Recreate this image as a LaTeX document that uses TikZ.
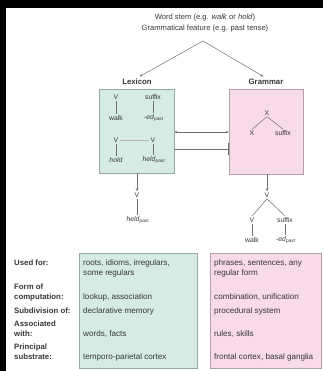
\documentclass[tikz,border=0pt]{standalone}
\usepackage{fontspec}
\setmainfont{Liberation Sans}
\usetikzlibrary{arrows.meta}
\definecolor{lexfill}{RGB}{214,234,230}
\definecolor{lexdraw}{RGB}{150,168,166}
\definecolor{gramfill}{RGB}{248,218,232}
\definecolor{gramdraw}{RGB}{178,160,170}
\definecolor{txt}{RGB}{55,55,55}
\definecolor{ln}{RGB}{110,110,110}
\tikzset{
  hdr/.style={font=\fontsize{7.6}{8.5}\selectfont, text=txt, inner sep=1pt},
  ttl/.style={font=\bfseries\fontsize{7.8}{9}\selectfont, text=txt, inner sep=1pt},
  tr/.style={font=\fontsize{6.8}{7.5}\selectfont, text=txt, inner sep=1.2pt},
  lbl/.style={font=\bfseries\fontsize{7.8}{10}\selectfont, text=txt, inner sep=0pt, anchor=west, align=left},
  cell/.style={font=\fontsize{8.1}{10}\selectfont, text=txt, inner sep=0pt, anchor=west, align=left},
  lexboxst/.style={draw=lexdraw, fill=lexfill, line width=0.6pt, minimum width=75pt, minimum height=84pt, inner sep=0pt},
  gramboxst/.style={draw=gramdraw, fill=gramfill, line width=0.6pt, minimum width=74pt, minimum height=85pt, inner sep=0pt},
  lexcol/.style={draw=lexdraw, fill=lexfill, line width=0.6pt, inner sep=0pt},
  gramcol/.style={draw=gramdraw, fill=gramfill, line width=0.6pt, inner sep=0pt},
  con/.style={draw=ln, line width=0.5pt},
  arr/.style={draw=ln, line width=0.5pt, -{Stealth[length=3pt,width=2.5pt]}},
  dbl/.style={draw=ln, line width=0.5pt, {Stealth[length=3pt,width=2.5pt]}-{Stealth[length=3pt,width=2.5pt]}},
  inh/.style={draw=ln, line width=0.5pt, -{Bar[width=12pt,line width=0.7pt]}}
}
\begin{document}
\begin{tikzpicture}[x=1pt,y=-1pt]
\useasboundingbox (0,0) rectangle (323,371);
\fill[black] (0,0) rectangle (323,371);
\fill[white] (6,8) rectangle (323,371);

% header
\node[hdr] (stem) at (205,18) {Word stem (e.g. \textit{walk} or \textit{hold})};
\node[hdr] (feat) at (205,29) {Grammatical feature (e.g. past tense)};
\coordinate (apex) at (203,41);
\node[ttl] (lex) at (137,82) {Lexicon};
\node[ttl] (gram) at (266,82) {Grammar};
\draw[arr, shorten >=3pt] (apex) -- (lex.north);
\draw[arr, shorten >=3pt] (apex) -- (gram.north);

% boxes
\node[lexboxst] (lbox) at (136.5,131) {};
\node[gramboxst] (gbox) at (266,131.5) {};

% lexicon content
\node[tr] (v1) at (116,97) {V};
\node[tr] (suf1) at (153,97) {suffix};
\node[tr] (walk1) at (116,118) {walk};
\node[tr] (ed1) at (154,118) {\textit{-ed}\textsubscript{\textit{past}}};
\node[tr] (v2) at (116,140) {V};
\node[tr] (v3) at (153,140) {V};
\node[tr] (hold) at (116,160) {\textit{hold}};
\node[tr] (held) at (154,160) {\textit{held}\textsubscript{\textit{past}}};
\draw[con] (v1) -- (walk1);
\draw[con] (suf1) -- (suf1 |- ed1.north);
\draw[con] (v2) -- (hold);
\draw[con] (v3) -- (v3 |- held.north);
\draw[draw=ln!50, line width=0.4pt] (v2) -- (v3);

% grammar content
\node[tr] (x1) at (267,113) {X};
\node[tr] (x2) at (252,133) {X};
\node[tr] (suf3) at (283,133) {suffix};
\draw[con] (x1.south) -- (x2.north);
\draw[con] (x1.south) -- (suf3.north);

% links between boxes
\draw[dbl] ([yshift=-1pt]lbox.east) -- ([yshift=-0.5pt]gbox.west);
\draw[inh] ([yshift=-18pt]lbox.east) -- ([yshift=-17.5pt]gbox.west);

% outputs
\node[tr] (v4) at (137,195) {V};
\node[tr] (held2) at (138,220) {\textit{held}\textsubscript{\textit{past}}};
\draw[arr] (lbox.south -| v4) -- (v4.north);
\draw[con] (v4) -- (v4 |- held2.north);

\node[tr] (v5) at (267,195) {V};
\node[tr] (v6) at (252,220) {V};
\node[tr] (suf2) at (285,220) {suffix};
\node[tr] (walk2) at (252,240) {walk};
\node[tr] (ed2) at (286,240) {\textit{-ed}\textsubscript{\textit{past}}};
\draw[arr] (gbox.south -| v5) -- (v5.north);
\draw[con] (v5.south) -- (v6.north);
\draw[con] (v5.south) -- (suf2.north);
\draw[con] (v6) -- (walk2);
\draw[con] (suf2) -- (suf2 |- ed2.north);

% table
\draw[lexcol] (79,253) rectangle (197,368);
\draw[gramcol] (210,253) rectangle (321.5,368);

\node[lbl] (l1) at (14,263) {Used for:};
\node[lbl] (l2) at (14,292.5) {Form of\\computation:};
\node[lbl] (l3) at (14,311) {Subdivision of:};
\node[lbl] (l4) at (14,328.5) {Associated\\with:};
\node[lbl] (l5) at (14,352) {Principal\\substrate:};

\node[cell] (a1) at (83,268) {roots, idioms, irregulars,\\some regulars};
\node[cell] (a2) at (83,297) {lookup, association};
\node[cell] (a3) at (83,311) {declarative memory};
\node[cell] (a4) at (83,334) {words, facts};
\node[cell] (a5) at (83,357) {temporo-parietal cortex};

\node[cell] (b1) at (214,268) {phrases, sentences, any\\regular form};
\node[cell] (b2) at (214,297) {combination, unification};
\node[cell] (b3) at (214,311) {procedural system};
\node[cell] (b4) at (214,334) {rules, skills};
\node[cell] (b5) at (214,357) {frontal cortex, basal ganglia};
\end{tikzpicture}
\end{document}
